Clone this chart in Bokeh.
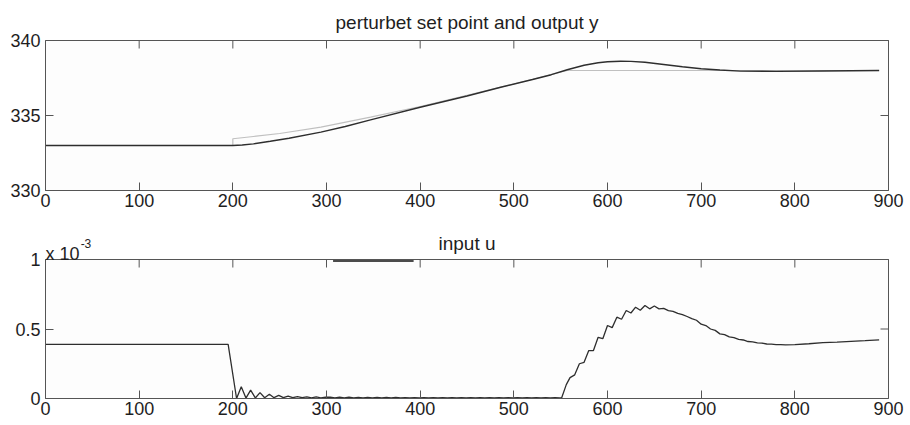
from bokeh.plotting import figure
from bokeh.layouts import column
from bokeh.models import Range1d, FixedTicker, Label
from bokeh.embed import file_html
from bokeh.resources import INLINE

# ---------------- data ----------------
x_ticks = [0, 100, 200, 300, 400, 500, 600, 700, 800, 900]
x_lo, x_hi = 0, 900
y1_ticks = [330, 335, 340]
y1_lo, y1_hi = 330, 340
y2_ticks = [0, 0.5, 1]
y2_lo, y2_hi = 0, 1

# set point (grey)
t_sp = [0, 200, 200, 222, 250, 294, 347, 400, 450, 500, 557, 890]
sp = [333.0, 333.0, 333.45, 333.6, 333.8, 334.22, 334.89, 335.6, 336.35, 337.1, 338.0, 338.0]

# output y (dark)
t_y = [0, 200, 210, 222, 240, 260, 294, 320, 347, 400, 450, 486, 520, 540, 557, 575, 590,
       600, 614, 625, 640, 660, 680, 700, 720, 742, 780, 830, 890]
y_out = [333.0, 333.0, 333.03, 333.11, 333.28, 333.48, 333.89, 334.27, 334.71, 335.55, 336.3,
         336.88, 337.4, 337.72, 338.05, 338.35, 338.52, 338.58, 338.62, 338.61, 338.55, 338.4,
         338.25, 338.12, 338.03, 337.96, 337.94, 337.97, 338.0]

# input u (in units of 1e-3)
t_u = [0, 195,
       204, 209, 214, 219, 224, 229, 234, 239, 244, 249, 254, 259, 264, 269, 274, 279, 284, 289, 294, 299,
       304, 309, 314, 319, 324, 329, 334, 339, 344, 349,
       354, 359, 364, 369, 374, 379, 384, 389, 394, 399,
       404, 409, 414, 419, 424, 429, 434, 439, 444, 449,
       454, 459, 464, 469, 474, 479, 484, 489, 494, 499,
       504, 509, 514, 519, 524, 529, 534, 539, 544, 549,
       551, 556, 560, 565, 570, 575, 580, 585, 590, 595, 600, 605, 610, 615, 620, 625, 630, 635,
       640, 645, 650, 655, 660, 665, 670, 675, 680, 685, 690, 695, 700, 705, 710, 715, 720, 725,
       730, 735, 740, 745, 750, 755, 760, 765, 770, 775, 780, 785, 790, 800, 815, 830, 845, 860,
       875, 890]
u = [0.39, 0.39,
     0.0, 0.085, 0.003, 0.06, 0.004, 0.042, 0.005, 0.03, 0.006, 0.022, 0.006, 0.017, 0.006, 0.014,
     0.006, 0.012, 0.005, 0.011, 0.005, 0.010,
     0.009, 0.005, 0.009, 0.005, 0.009, 0.005, 0.008, 0.005, 0.008, 0.005,
     0.008, 0.005, 0.008, 0.005, 0.008, 0.005, 0.007, 0.005, 0.007, 0.005,
     0.007, 0.005, 0.007, 0.005, 0.007, 0.005, 0.007, 0.005, 0.007, 0.005,
     0.007, 0.005, 0.007, 0.005, 0.006, 0.005, 0.006, 0.005, 0.006, 0.005,
     0.006, 0.005, 0.006, 0.005, 0.006, 0.004, 0.006, 0.004, 0.006, 0.004,
     0.004, 0.10, 0.15, 0.17, 0.25, 0.26, 0.345, 0.345, 0.44, 0.43, 0.525, 0.51, 0.585, 0.57,
     0.633, 0.615, 0.657, 0.635, 0.669, 0.645, 0.665, 0.645, 0.648, 0.632, 0.627, 0.612, 0.604,
     0.59, 0.575, 0.563, 0.535, 0.525, 0.50, 0.49, 0.465, 0.46, 0.443, 0.438, 0.425, 0.421, 0.41,
     0.408, 0.40, 0.398, 0.392, 0.391, 0.388, 0.387, 0.386, 0.387, 0.394, 0.402, 0.406, 0.411,
     0.416, 0.422]

# short dark segment at the top of the lower axes
t_mark = [307, 393]
u_mark = [0.99, 0.99]

FONT = "Liberation Sans"
AX = "#555555"
TXT = "#1e1e1e"
TICK_FS = "18px"
TITLE_FS = "19px"

BOX_W = 843          # pixel width of the axes box
PAD_R = 6            # extra frame pixels to the right of the box
BL = 45
TICK_PX = 8
x_per_px = (x_hi - x_lo) / BOX_W


def make_fig(y_lo, y_hi, yt, box_h, above_px, bb):
    y_per_px = (y_hi - y_lo) / box_h
    fw = BOX_W + PAD_R
    fh = box_h + above_px
    p = figure(frame_width=fw, frame_height=fh, min_border_left=BL,
               min_border_right=910 - BL - fw,
               min_border_top=4, min_border_bottom=bb,
               x_range=Range1d(x_lo, x_hi + PAD_R * x_per_px),
               y_range=Range1d(y_lo, y_hi + above_px * y_per_px),
               output_backend="svg", toolbar_location=None)
    p.grid.visible = False
    p.background_fill_color = "white"
    p.border_fill_color = "white"
    p.outline_line_color = None
    for ax in [p.xaxis[0], p.yaxis[0]]:
        ax.axis_line_color = AX
        ax.major_tick_line_color = AX
        ax.major_tick_in = TICK_PX
        ax.major_tick_out = 0
        ax.minor_tick_line_color = None
        ax.major_label_text_font = FONT
        ax.major_label_text_font_size = TICK_FS
        ax.major_label_text_color = TXT
    p.xaxis[0].major_label_standoff = 3
    p.yaxis[0].major_label_standoff = 5
    p.xaxis[0].ticker = FixedTicker(ticks=x_ticks)
    p.yaxis[0].ticker = FixedTicker(ticks=yt)
    p.xaxis[0].bounds = (x_lo, x_hi)
    p.yaxis[0].bounds = (y_lo, y_hi)
    # axes box
    p.quad(left=[x_lo], right=[x_hi], bottom=[y_lo], top=[y_hi],
           fill_color="#fdfdfd", line_color=AX, line_width=1)
    # inward ticks on top and right edges
    p.segment(x0=x_ticks, y0=[y_hi] * len(x_ticks), x1=x_ticks,
              y1=[y_hi - TICK_PX * y_per_px] * len(x_ticks), line_color=AX, line_width=1)
    p.segment(x0=[x_hi] * len(yt), y0=yt, x1=[x_hi - TICK_PX * x_per_px] * len(yt), y1=yt,
              line_color=AX, line_width=1)
    return p, y_per_px


# upper axes: box from page y 40 to 190
p1, d1 = make_fig(y1_lo, y1_hi, y1_ticks, 150, 36, 26)
p1.line(t_sp, sp, line_color="#c0c0c0", line_width=1.2)
p1.line(t_y, y_out, line_color="#2e2e2e", line_width=1.4)
p1.add_layout(Label(x=450, y=y1_hi + 18 * d1, text="perturbet set point and output y",
                    text_align="center", text_baseline="middle", text_font=FONT,
                    text_font_size=TITLE_FS, text_color=TXT))

# lower axes: box from page y 259 to 398
p2, d2 = make_fig(y2_lo, y2_hi, y2_ticks, 139, 39, 27)
p2.line(t_u, u, line_color="#2e2e2e", line_width=1.3)
p2.line(t_mark, u_mark, line_color="#111111", line_width=1.5)
p2.add_layout(Label(x=450, y=y2_hi + 16 * d2, text="input u", text_align="center",
                    text_baseline="middle", text_font=FONT, text_font_size=TITLE_FS,
                    text_color=TXT))
p2.add_layout(Label(x=0, y=y2_hi + 6 * d2, text="x 10", text_align="left",
                    text_baseline="alphabetic", text_font=FONT, text_font_size=TICK_FS,
                    text_color=TXT))
p2.add_layout(Label(x=37.5, y=y2_hi + 16 * d2, text="-3", text_align="left",
                    text_baseline="alphabetic", text_font=FONT, text_font_size="12px",
                    text_color=TXT))

layout = column(p1, p2)
open("out.html", "w").write(file_html(layout, INLINE))
